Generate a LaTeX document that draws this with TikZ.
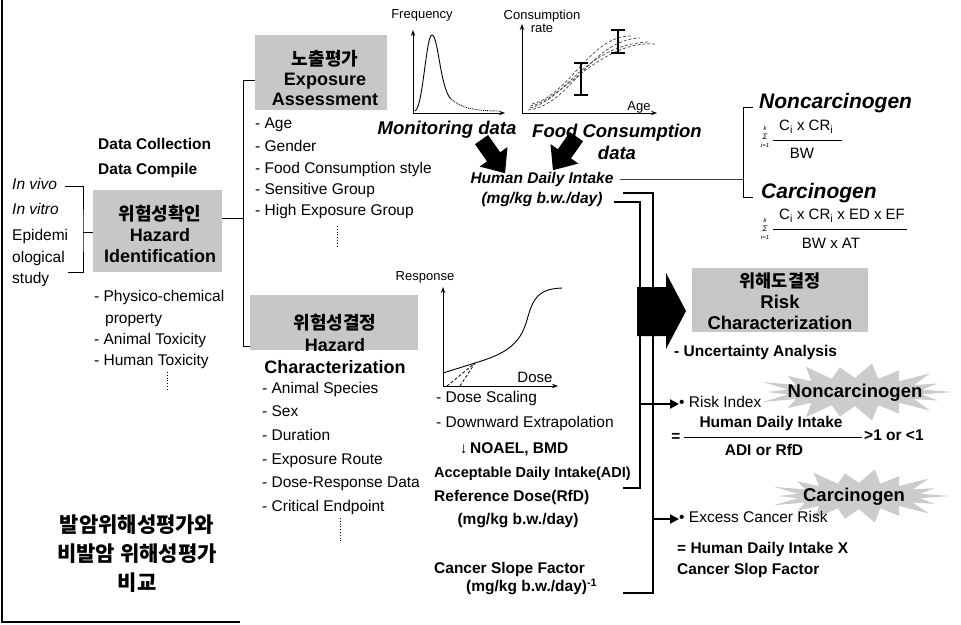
\documentclass[tikz,border=0pt]{standalone}
\usepackage{fontspec}
\setmainfont{Liberation Sans}
\newfontfamily\kr{Noto Sans CJK KR}
\usetikzlibrary{arrows.meta,calc}
\newcommand{\fsz}[2]{\fontsize{#1}{#2}\selectfont}
\begin{document}
\begin{tikzpicture}[x=1pt,y=-1pt,
  t/.style={inner sep=0pt, text height=11pt, text depth=3.5pt, font=\fsz{15.5}{18}},
  tl/.style={t, anchor=west},
  tb/.style={t, font=\fsz{15.5}{18}\bfseries},
  tbl/.style={tb, anchor=west},
  ti/.style={t, anchor=west, font=\fsz{15.5}{18}\itshape},
  sm/.style={inner sep=0pt, font=\fsz{13}{14}},
  gbox/.style={fill=black!22, draw=none, inner sep=0pt},
  ttl/.style={inner sep=0pt, align=center},
  conn/.style={line width=2pt},
  ln/.style={line width=1pt},
  ax/.style={line width=1pt, -{Stealth[length=6pt,width=4.5pt]}},
  tipa/.style={-{Triangle[length=9pt,width=9pt]}},
  burstfill/.style={fill=black!20, draw=none},
  cdash/.style={line width=0.7pt, densely dashed, black!75},
  ebar/.style={line width=1.5pt},
  vdots/.style={line width=0.8pt, dotted},
  sumst/.style={inner sep=0pt, align=center, font=\fsz{6}{8.5}\itshape}
]
\useasboundingbox (0,0) rectangle (961,624);

% frame
\draw[line width=2.5pt] (2,0) -- (2,622) -- (240,622);

% ---------- Hazard identification ----------
\node[tbl] (dcol) at (98,146) {Data Collection};
\node[tbl] (dcmp) at (98,171) {Data Compile};
\node[ti] (ivo) at (12,186) {In vivo};
\node[ti] (ivt) at (12,211) {In vitro};
\node[tl] (ep1) at (12,237) {Epidemi};
\node[tl] (ep2) at (12,259) {ological};
\node[tl] (ep3) at (12,280) {study};

\node[gbox, minimum width=129pt, minimum height=82pt] (hibox) at (157.5,231) {};
\node[ttl, font=\fsz{18}{21}\bfseries] (hitxt) at (160,234) {{\kr 위험성확인}\\Hazard\\Identification};

\coordinate (bkA) at (65,186);
\coordinate (bkM) at (83,232);
\coordinate (bkB) at (68,272);
\draw[ln] (bkA) -| (bkM) |- (bkB);
\draw[ln] (bkM) -- (hibox.west |- bkM);

\node[tl] (hl1) at (94,298) {- Physico-chemical};
\node[tl] (hl2) at (105,320) {property};
\node[tl] (hl3) at (94,341) {- Animal Toxicity};
\node[tl] (hl4) at (94,362) {- Human Toxicity};
\draw[vdots] (167,372) -- (167,390);

% ---------- main bracket ----------
\node[gbox, minimum width=132pt, minimum height=75pt] (eabox) at (321,72.5) {};
\node[gbox, minimum width=168pt, minimum height=55pt] (hcbox) at (334,322.5) {};
\coordinate (mbT) at (243,80);
\coordinate (mbM) at (243,218);
\coordinate (mbB) at (243,346);
\draw[ln] (eabox.west |- mbT) -- (mbT) -- (mbB) -- (hcbox.west |- mbB);
\draw[ln] (hibox.east |- mbM) -- (mbM);

% ---------- Exposure assessment ----------
\node[ttl, font=\fsz{18}{20}\bfseries] (eatxt) at (325,78) {{\kr 노출평가}\\Exposure\\Assessment};
\node[tl] (ea1) at (255,125) {- Age};
\node[tl] (ea2) at (255,148) {- Gender};
\node[tl] (ea3) at (255,170) {- Food Consumption style};
\node[tl] (ea4) at (255,191) {- Sensitive Group};
\node[tl] (ea5) at (255,212) {- High Exposure Group};
\draw[vdots] (337,226) -- (337,246);

% ---------- Hazard characterization ----------
\node[ttl, font=\fsz{18}{22}\bfseries] (hctxt) at (335,344) {{\kr 위험성결정}\\Hazard\\Characterization};
\node[tl] (hc1) at (262,390) {- Animal Species};
\node[tl] (hc2) at (262,413) {- Sex};
\node[tl] (hc3) at (262,437) {- Duration};
\node[tl] (hc4) at (262,461) {- Exposure Route};
\node[tl] (hc5) at (262,484) {- Dose-Response Data};
\node[tl] (hc6) at (262,508) {- Critical Endpoint};
\draw[vdots] (340,518) -- (340,542);

% ---------- Frequency graph ----------
\node[sm] (frq) at (422,15) {Frequency};
\coordinate (fo) at (413,113);
\draw[ax] (fo) -- (413,30);
\draw[ax] (fo) -- (505,113);
\draw[line width=0.9pt] (415,111) .. controls (423,108) and (426,35) .. (432,35) .. controls (438,35) and (440,85) .. (450,98);
\draw[line width=0.9pt, densely dotted] (450,98) .. controls (460,108) and (475,111) .. (500,111);

% ---------- Consumption graph ----------
\node[sm, align=center, font=\fsz{13}{13}] (crl) at (542,21) {Consumption\\rate};
\coordinate (co) at (522,113);
\draw[ax] (co) -- (522,24);
\draw[ax] (co) -- (657,113);
\node[sm] (agel) at (639,107) {Age};
\draw[cdash] (528,110) .. controls (570,106) and (590,40) .. (640,38);
\draw[cdash] (530,108) .. controls (565,100) and (585,45) .. (648,42);
\draw[cdash] (530,106) .. controls (560,102) and (600,40) .. (655,44);
\draw[cdash] (532,104) .. controls (570,95) and (590,35) .. (632,36);
\draw[ebar] (581,63) -- (581,95);
\draw[ebar] (574,63) -- (588,63);
\draw[ebar] (574,95) -- (588,95);
\draw[ebar] (618,30) -- (618,53);
\draw[ebar] (611,30) -- (625,30);
\draw[ebar] (611,53) -- (625,53);

% ---------- data labels and block arrows ----------
\node[inner sep=0pt, font=\fsz{18.5}{22}\bfseries\itshape] (mon) at (447,130) {Monitoring data};
\node[inner sep=0pt, align=center, font=\fsz{18.5}{22}\bfseries\itshape] (fcd) at (617,142) {Food Consumption\\data};
\begin{scope}[shift={(493,156)}, rotate=-55]
  \fill (-20,-8) -- (1,-8) -- (1,-17) -- (21,0) -- (1,17) -- (1,8) -- (-20,8) -- cycle;
\end{scope}
\begin{scope}[shift={(565,153)}, rotate=-125]
  \fill (-20,-8) -- (1,-8) -- (1,-17) -- (21,0) -- (1,17) -- (1,8) -- (-20,8) -- cycle;
\end{scope}
\node[inner sep=0pt, align=center, font=\fsz{15.5}{20}\bfseries\itshape] (hdi) at (542,189) {Human Daily Intake\\(mg/kg b.w./day)};

% ---------- dose-response graph ----------
\node[sm] (resp) at (425,277) {Response};
\coordinate (do) at (443,386);
\draw[ax] (do) -- (443,287);
\draw[ax] (do) -- (558,386);
\node[inner sep=0pt, font=\fsz{15}{17}] (dosel) at (535,377) {Dose};
\coordinate (dp) at (475,363);
\draw[line width=0.9pt] (443,373) -- (dp) .. controls (505,354) and (520,345) .. (527,320) .. controls (533,298) and (538,289) .. (562,288);
\draw[line width=0.8pt, densely dashed] (447,386) -- (dp);
\draw[line width=0.8pt, densely dashed] (460,386) -- (dp);
\node[tl] (ds1) at (436,399) {- Dose Scaling};
\node[tl] (ds2) at (436,424) {- Downward Extrapolation};
\node[tb] (noael) at (514,450) {↓\,NOAEL, BMD};
\node[inner sep=0pt, anchor=west, text height=10pt, text depth=3pt, font=\fsz{14.5}{16}\bfseries] (adi) at (434,474) {Acceptable Daily Intake(ADI)};
\node[tbl] (rfd) at (434,498) {Reference Dose(RfD)};
\node[tb] (u1) at (518,521) {(mg/kg b.w./day)};
\node[tbl] (csf) at (434,570) {Cancer Slope Factor};
\node[tbl] (u2) at (466,588) {(mg/kg b.w./day)\textsuperscript{-1}};

% ---------- connectors from Human Daily Intake ----------
\coordinate (hA0) at (614,202);
\coordinate (hA1) at (640,202);
\coordinate (aA) at (640,488);
\coordinate (adiC) at (623,488);
\coordinate (hB0) at (623,193);
\coordinate (hB1) at (653,193);
\coordinate (aB) at (653,593);
\coordinate (csfC) at (623,593);
\coordinate (riS) at (640,404);
\coordinate (ecS) at (653,519);
\draw[conn] (hA0) -- (hA1) -- (aA) -- (adiC);
\draw[conn] (hB0) -- (hB1) -- (aB) -- (csfC);

% big black arrow
\fill (637,287) -- (666,287) -- (666,273) -- (686,311) -- (666,349) -- (666,336) -- (637,336) -- cycle;

% ---------- top right formulas ----------
\coordinate (hdL) at (620,179);
\coordinate (brM) at (743,179);
\coordinate (brT) at (753,107);
\coordinate (brB) at (753,197);
\draw[line width=0.8pt, black!75] (hdL) -- (brM);
\draw[ln] (brT) -- (743,107) -- (743,197) -- (brB);
\node[inner sep=0pt, anchor=west, font=\fsz{21}{24}\bfseries\itshape] (ncT) at (759,103) {Noncarcinogen};
\node[sumst] (s1) at (765,137) {k\\{\fsz{8}{8.5}Σ}\\i=1};
\node[inner sep=0pt, anchor=west, font=\fsz{15}{17}] (n1) at (779,127) {C\textsubscript{i} x CR\textsubscript{i}};
\draw[line width=0.8pt] (773,140) -- (842,140);
\node[inner sep=0pt, font=\fsz{15}{17}] (n2) at (802,153) {BW};
\node[inner sep=0pt, anchor=west, font=\fsz{21}{24}\bfseries\itshape] (cT) at (761,193) {Carcinogen};
\node[sumst] (s2) at (765,229) {k\\{\fsz{8}{8.5}Σ}\\i=1};
\node[inner sep=0pt, anchor=west, font=\fsz{15}{17}] (c1) at (779,216) {C\textsubscript{i} x CR\textsubscript{i} x ED x EF};
\draw[line width=0.8pt] (773,229) -- (907,229);
\node[inner sep=0pt, font=\fsz{15}{17}] (c2) at (831,243) {BW x AT};

% ---------- Risk characterization ----------
\node[gbox, minimum width=176pt, minimum height=64pt] (rcbox) at (780,300) {};
\node[ttl, font=\fsz{18.5}{21}\bfseries] (rctxt) at (780,301) {{\kr\fsz{17.5}{21}\bfseries 위해도결정}\\Risk\\Characterization};
\node[tbl] (unc) at (674,353) {- Uncertainty Analysis};

% starbursts
\coordinate (sc1) at (855,392);
\coordinate (sc2) at (859,496);
\fill[burstfill] ($(sc1)+(98,0)$) \foreach \a [count=\k] in {0,20,...,340} {
  -- ($(sc1)+({68*cos(\a+10)},{14*sin(\a+10)})$)
  -- ($(sc1)+({(98-mod(\k,2)*10)*cos(\a+20)},{(29-mod(\k,2)*4)*sin(\a+20)})$) } -- cycle;
\fill[burstfill] ($(sc2)+(91,0)$) \foreach \a [count=\k] in {0,20,...,340} {
  -- ($(sc2)+({62*cos(\a+10)},{13*sin(\a+10)})$)
  -- ($(sc2)+({(91-mod(\k,2)*10)*cos(\a+20)},{(27-mod(\k,2)*4)*sin(\a+20)})$) } -- cycle;

\node[inner sep=0pt, font=\fsz{18.5}{20}\bfseries] (ncs) at (855,393) {Noncarcinogen};
\node[tl] (ri) at (679,404) {• Risk Index};
\draw[conn, tipa] (riS) -- (ri.west);
\node[tb] (eq1) at (676,438) {=};
\node[tb] (num) at (771,424) {Human Daily Intake};
\draw[line width=1pt] (684,437) -- (862,437);
\node[tb] (den) at (764,452) {ADI or RfD};
\node[tbl] (cmp) at (864,437) {>1 or <1};

\node[inner sep=0pt, font=\fsz{18.5}{20}\bfseries] (cas) at (854,497) {Carcinogen};
\node[tl] (ecr) at (679,519) {• Excess Cancer Risk};
\draw[conn, tipa] (ecS) -- (ecr.west);
\node[tbl] (ecf1) at (677,550) {= Human Daily Intake X};
\node[tbl] (ecf2) at (677,571) {Cancer Slop Factor};

% ---------- bottom-left title ----------
\node[ttl, font=\kr\fsz{21}{29}\bfseries] (kor) at (137,554) {발암위해성평가와\\비발암 위해성평가\\비교};
\end{tikzpicture}
\end{document}
